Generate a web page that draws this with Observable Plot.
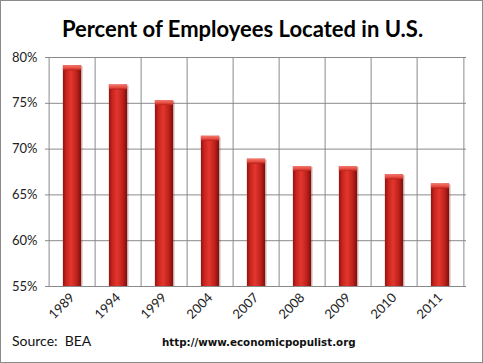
<!DOCTYPE html>
<html><head><meta charset="utf-8">
<script src="https://cdn.jsdelivr.net/npm/d3@7"></script>
<script src="https://cdn.jsdelivr.net/npm/@observablehq/plot@0.6"></script>
<style>
html,body{margin:0;padding:0;background:#fff;}
#wrap{position:relative;width:483px;height:363px;box-sizing:border-box;border:1px solid #8a8a8a;background:#fff;overflow:hidden;font-family:Lato,"Open Sans",sans-serif;}
#title{position:absolute;left:0;top:14px;width:483px;text-align:center;font:bold 22px Lato,sans-serif;color:#000;}
#chart{position:absolute;left:0;top:0;}
#src{position:absolute;left:11px;top:331px;font:14px Lato,sans-serif;color:#111;}
#url{position:absolute;left:161px;top:335px;font:bold 10.3px "DejaVu Sans",sans-serif;color:#111;}
</style></head>
<body>
<div id="wrap">
<div id="chart"></div>
<div id="title">Percent of Employees Located in U.S.</div>
<div id="src">Source:&nbsp; BEA</div>
<div id="url">http://www.economicpopulist.org</div>
</div>
<script>
const years = ["1989","1994","1999","2004","2007","2008","2009","2010","2011"];
const percents = [79.1, 77.0, 75.3, 71.4, 68.9, 68.1, 68.1, 67.2, 66.2];
const yTicks = [55, 60, 65, 70, 75, 80];

const data = years.map((y, i) => ({year: y, pct: percents[i]}));

const W = 481, H = 361;
const mL = 44, mR = 16, mT = 56, mB = 76;
const bw = (W - mL - mR) / years.length;
const inset = (bw - 19) / 2;

const chart = Plot.plot({
  width: W, height: H,
  marginLeft: mL, marginRight: mR, marginTop: mT, marginBottom: mB,
  style: {background: "transparent", fontFamily: "Lato, sans-serif", fontSize: "13px", color: "#222"},
  x: {domain: years, padding: 0, label: null, tickSize: 0, tickRotate: -45, tickPadding: 9},
  y: {domain: [55, 80], ticks: yTicks, tickFormat: d => d + "%", label: null, tickSize: 0, tickPadding: 8},
  marks: [
    Plot.ruleY(yTicks, {stroke: "#8a8a8a", strokeWidth: 1}),
    Plot.tickY(yTicks, {x: years[0], dx: -bw/2 - 3, stroke: "#8a8a8a"}),
    Plot.ruleX(years, {x: d => d, dx: -bw/2, y1: 55, y2: 80, stroke: "#8a8a8a"}),
    Plot.ruleX([years[years.length-1]], {x: d => d, dx: bw/2, y1: 55, y2: 80, stroke: "#8a8a8a"}),
    Plot.barY(data, {x: "year", y1: 55, y2: "pct", insetLeft: inset + 1.5, insetRight: inset - 1.5, insetTop: 1, fill: "#5a0a08", fillOpacity: 0.25}),
    Plot.barY(data, {x: "year", y1: 55, y2: "pct", insetLeft: inset, insetRight: inset, fill: "url(#barGrad)"}),
    Plot.barY(data, {x: "year", y1: d => d.pct - 0.55, y2: "pct", insetLeft: inset, insetRight: inset, fill: "url(#capGrad)"})
  ]
});

const svg = d3.select(chart);
const defs = svg.insert("defs", ":first-child");
const g = defs.append("linearGradient").attr("id", "barGrad").attr("x1", "0").attr("x2", "1").attr("y1", "0").attr("y2", "0");
[["0%", "#8e1411"], ["18%", "#c8231d"], ["45%", "#e2372e"], ["75%", "#c0211b"], ["100%", "#7a0f0c"]].forEach(([o, c]) => g.append("stop").attr("offset", o).attr("stop-color", c));
const c = defs.append("linearGradient").attr("id", "capGrad").attr("x1", "0").attr("x2", "0").attr("y1", "0").attr("y2", "1");
[["0%", "#f07a6e"], ["60%", "#e8493e"], ["100%", "#b31e18"]].forEach(([o, col]) => c.append("stop").attr("offset", o).attr("stop-color", col));

document.getElementById("chart").appendChild(chart);
</script>
</body></html>
